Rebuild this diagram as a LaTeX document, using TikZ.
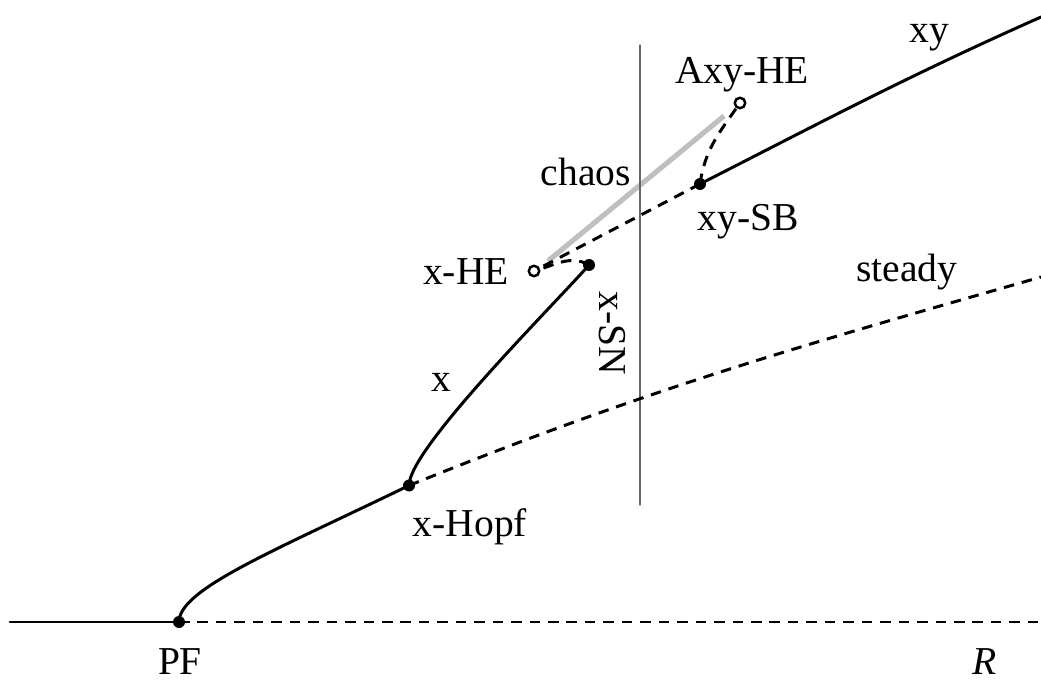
\documentclass[tikz,border=0pt]{standalone}
\usepackage{fontspec}
\setmainfont{Liberation Serif}
\begin{document}
\begin{tikzpicture}[line cap=round, line join=round, >=stealth,
		branch/.style={line width=1.7pt},
		unstable/.style={line width=1.7pt, dash pattern=on 6pt off 4.5pt, line cap=butt},
		lbl/.style={font=\fontsize{22.5}{26}\selectfont, inner sep=0pt}]
	% Window bounds
	\def\xmax{20.82} \def\ymax{13.68}
	\useasboundingbox (0,0) rectangle (\xmax,\ymax);
	
	% Key points of the diagram
	\coordinate (left) at (0.2,1.24);
	\coordinate (right) at (\xmax,1.24);
	\coordinate (pf) at (3.58,1.24);
	\coordinate (hopf) at (8.18,3.97);
	\coordinate (steadyend) at (\xmax,8.14);
	\coordinate (fold) at (11.78,8.38);
	\coordinate (xhe) at (10.68,8.26);
	\coordinate (xysb) at (14.0,10.0);
	\coordinate (axyhe) at (14.8,11.62);
	\coordinate (xyend) at (\xmax,13.34);
	\coordinate (sntop) at (12.8,12.78);
	\coordinate (snbot) at (12.8,3.58);
	\coordinate (chaosa) at (10.96,8.46);
	\coordinate (chaosb) at (14.48,11.36);
	
	% Chaotic region (thick gray band)
	\draw[line width=2.9pt, black!25, line cap=butt] (chaosa) -- (chaosb);
	
	% Vertical line of the x-SN
	\draw[black!60, line width=0.6pt] (sntop) -- (snbot);
	
	% Trivial state and its unstable continuation
	\draw[branch] (left) -- (pf);
	\draw[unstable] (pf) -- (right);
	
	% Steady branch: stable up to x-Hopf, then unstable
	\draw[branch] (pf) .. controls (3.58,1.9) and (5.48,2.66) .. (hopf);
	\draw[unstable] (hopf) to[out=22, in=196] (steadyend);
	
	% x branch up to its fold, then unstable towards x-HE
	\draw[branch] (hopf) .. controls (8.18,4.7) and (11.0,7.5) .. (fold);
	\draw[unstable] (fold) to[out=150, in=15] (xhe);
	\draw[unstable] (xysb) -- (xhe);
	
	% xy branch and its unstable part towards Axy-HE
	\draw[branch] (xysb) to[out=27, in=204] (xyend);
	\draw[unstable] (xysb) to[out=82, in=235] (axyhe);
	
	% Bifurcation points marked with small filled / open circles
	\fill (pf) circle (0.12);
	\fill (hopf) circle (0.12);
	\fill (fold) circle (0.12);
	\fill (xysb) circle (0.12);
	\draw[line width=1.4pt, fill=white] (xhe) circle (0.105);
	\draw[line width=1.4pt, fill=white] (axyhe) circle (0.105);
	
	% Labels
	\node[lbl] (pflbl) at (3.6,0.44) {PF};
	\node[lbl] (rlbl) at (19.7,0.44) {\textit{R}};
	\node[lbl] (hopflbl) at (9.4,3.14) {x-Hopf};
	\node[lbl] (steadylbl) at (18.14,8.24) {steady};
	\node[lbl] (xlbl) at (8.82,6.04) {x};
	\node[lbl] (xhelbl) at (9.32,8.24) {x-HE};
	\node[lbl, rotate=-90] (snlbl) at (12.24,7.02) {x-SN};
	\node[lbl] (chaoslbl) at (11.72,10.24) {chaos};
	\node[lbl] (xysblbl) at (14.96,9.24) {xy-SB};
	\node[lbl] (axyhelbl) at (14.84,12.18) {Axy-HE};
	\node[lbl] (xylbl) at (18.58,12.92) {xy};
\end{tikzpicture}
\end{document}
